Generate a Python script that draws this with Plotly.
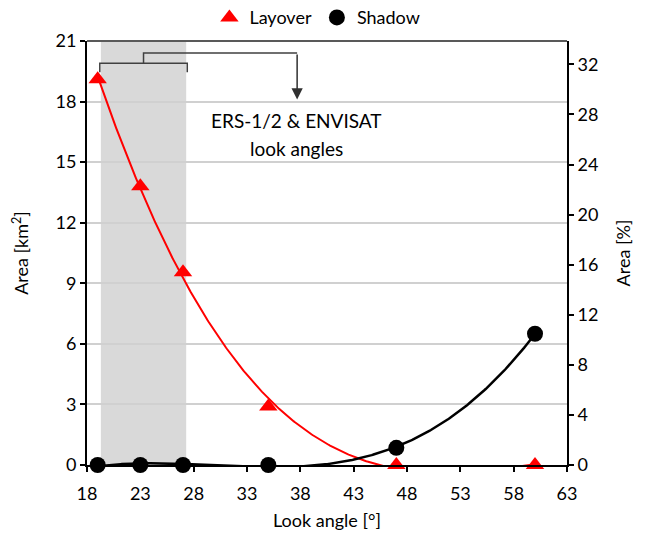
import numpy as np
import plotly.graph_objects as go

# Look angle [deg] of each simulated acquisition
look_angle = [19, 23, 27, 35, 47, 60]
# Layover and shadow area [km^2]
layover_km2 = [19.1, 13.8, 9.55, 2.9, 0.0, 0.0]
shadow_km2 = [0.0, 0.0, 0.0, 0.0, 0.85, 6.5]

# Total study area [km^2] used for the percentage axis
total_area_km2 = 62.0

# ERS-1/2 & ENVISAT look angle range [deg]
ers_envisat_range = [19.3, 27.3]

x_ticks = [18, 23, 28, 33, 38, 43, 48, 53, 58, 63]
km2_ticks = [0, 3, 6, 9, 12, 15, 18, 21]
pct_ticks = [0, 4, 8, 12, 16, 20, 24, 28, 32]

FONT = "Lato"
TXT = 18

# Polynomial trend lines (order 3) through the two series
xs = np.linspace(min(look_angle), max(look_angle), 400)
lay_fit = np.polyval(np.polyfit(look_angle, layover_km2, 3), xs)
sha_fit = np.polyval(np.polyfit(look_angle, shadow_km2, 3), xs)

fig = go.Figure()

fig.add_trace(go.Scatter(x=xs, y=lay_fit, mode="lines",
                         line=dict(color="#ff0000", width=2),
                         showlegend=False, hoverinfo="skip"))
fig.add_trace(go.Scatter(x=xs, y=sha_fit, mode="lines",
                         line=dict(color="#000000", width=2.5),
                         showlegend=False, hoverinfo="skip"))

fig.add_trace(go.Scatter(x=look_angle, y=layover_km2, mode="markers",
                         name="Layover", cliponaxis=False,
                         marker=dict(symbol="triangle-up", size=16, color="#ff0000")))
fig.add_trace(go.Scatter(x=look_angle, y=shadow_km2, mode="markers",
                         name="Shadow", cliponaxis=False,
                         marker=dict(symbol="circle", size=16, color="#000000")))

# Same shadow series expressed in percent on the secondary axis
fig.add_trace(go.Scatter(x=look_angle,
                         y=[v / total_area_km2 * 100 for v in shadow_km2],
                         yaxis="y2", mode="markers",
                         marker=dict(opacity=0), showlegend=False, hoverinfo="skip"))

# Shaded ERS/ENVISAT band
fig.add_shape(type="rect", xref="x", yref="paper",
              x0=ers_envisat_range[0], x1=ers_envisat_range[1], y0=0, y1=1,
              fillcolor="#d9d9d9", line_width=0, layer="below")

# Bracket over the band and arrow down to the label
bx0, bx1 = 19.2, 27.4
bmid = 23.3
by_lo, by_mid, by_hi = 19.45, 19.9, 20.4
ax_x = 37.7
brk = dict(color="#404040", width=1.5)
fig.add_shape(type="path", xref="x", yref="y",
              path=f"M {bx0},{by_lo} L {bx0},{by_mid} L {bx1},{by_mid} L {bx1},{by_lo}",
              line=brk)
fig.add_shape(type="path", xref="x", yref="y",
              path=f"M {bmid},{by_mid} L {bmid},{by_hi} L {ax_x},{by_hi}",
              line=brk)
fig.add_annotation(x=ax_x, y=18.1, ax=ax_x, ay=by_hi, xref="x", yref="y",
                   axref="x", ayref="y", showarrow=True, arrowhead=2,
                   arrowsize=1.5, arrowwidth=1.5, arrowcolor="#303030", text="")

fig.add_annotation(x=37.6, y=17.05, xref="x", yref="y", showarrow=False,
                   text="ERS-1/2 & ENVISAT", font=dict(family=FONT, size=19, color="#000"))
fig.add_annotation(x=37.6, y=15.7, xref="x", yref="y", showarrow=False,
                   text="look angles", font=dict(family=FONT, size=19, color="#000"))

# Top border of the plot frame
fig.add_shape(type="line", xref="paper", yref="paper", x0=0, x1=1, y0=1, y1=1,
              line=dict(color="#595959", width=2))

axis_common = dict(ticks="outside", ticklen=5, tickwidth=1.5, tickcolor="#000",
                   showline=True, linecolor="#000", linewidth=2, zeroline=False,
                   automargin=False,
                   tickfont=dict(family=FONT, size=TXT, color="#000"))

fig.update_layout(
    width=645, height=536,
    margin=dict(l=87, r=78, t=41, b=71, autoexpand=False),
    paper_bgcolor="white", plot_bgcolor="white",
    font=dict(family=FONT, size=TXT, color="#000"),
    xaxis=dict(range=[18, 63], tickvals=x_ticks, showgrid=False, ticklabelstandoff=6,
               title=dict(text="Look angle [°]", font=dict(family=FONT, size=TXT), standoff=12),
               **axis_common),
    yaxis=dict(range=[0, 21], tickvals=km2_ticks, showgrid=True,
               gridcolor="#d0d0d0", gridwidth=1.5,
               title=dict(text="Area [km<sup>2</sup>]", font=dict(family=FONT, size=TXT), standoff=22),
               **axis_common),
    yaxis2=dict(range=[0, 21 / total_area_km2 * 100], tickvals=pct_ticks,
                overlaying="y", side="right", showgrid=False,
                title=dict(text="Area [%]", font=dict(family=FONT, size=TXT), standoff=20),
                **axis_common),
    legend=dict(orientation="h", x=0.48, xanchor="center", y=1.055, yanchor="middle",
                font=dict(family=FONT, size=TXT, color="#000"), bgcolor="rgba(0,0,0,0)"),
    showlegend=True,
)

fig.write_html("out.html")
